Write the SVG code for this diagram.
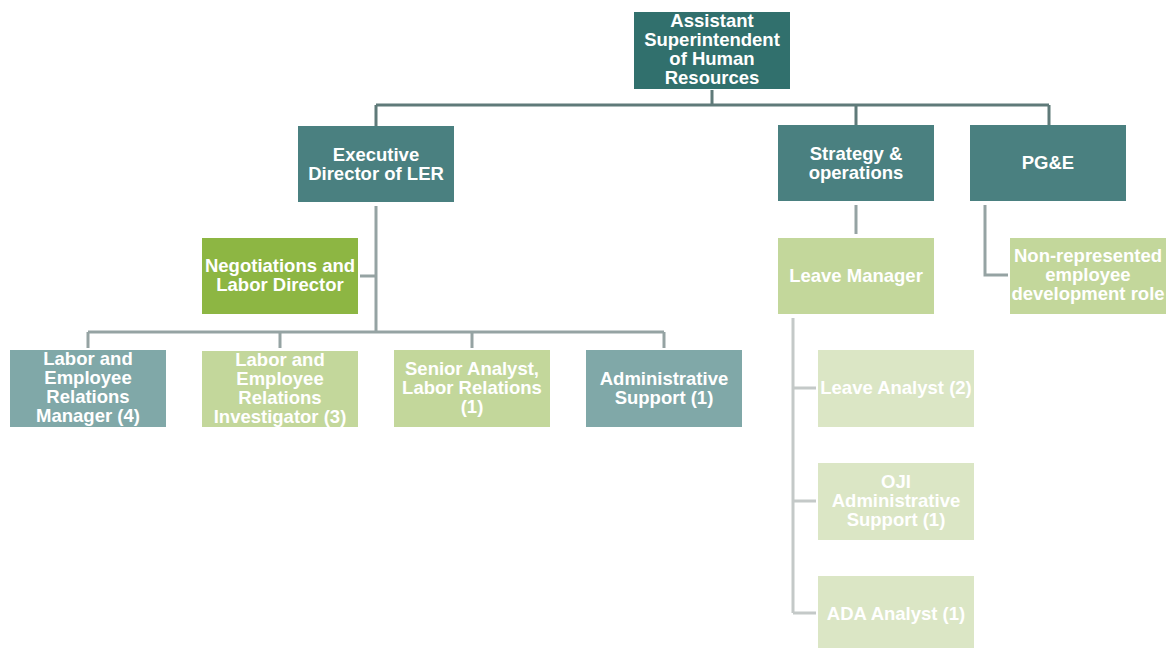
<svg xmlns="http://www.w3.org/2000/svg" width="1171" height="648" viewBox="0 0 1171 648">
  <style>
    .box { stroke: none; }
    .t { font-family: "Liberation Sans", Arial, sans-serif; font-weight: bold; font-size: 18.5px; fill: #ffffff; text-anchor: middle; }
    .c1 { fill: none; stroke: #5f7a79; stroke-width: 3; }
    .c2 { fill: none; stroke: #95a3a3; stroke-width: 3; }
    .c3 { fill: none; stroke: #c4c9c8; stroke-width: 3; }
  </style>
  <rect width="1171" height="648" fill="#ffffff"/>

  <g id="connectors">
    <path class="c1" d="M712 90 V105 M376 105 H1049 M376 105 V126 M856 105 V125 M1049 105 V125"/>
    <path class="c2" d="M376 206 V332 M360 276 H376 M88 332 H664 M88 332 V348 M280 332 V348 M472 332 V348 M664 332 V348"/>
    <path class="c2" d="M856 205 V234 M985 205 V275 H1008"/>
    <path class="c3" d="M793 318 V613 M793 388 H816 M793 501 H816 M793 613 H816"/>
  </g>

  <g id="n-ashr">
    <rect class="box" x="634" y="12" width="156" height="77" fill="#31706d"/>
    <text class="t" x="712" y="27">Assistant</text>
    <text class="t" x="712" y="46">Superintendent</text>
    <text class="t" x="712" y="65">of Human</text>
    <text class="t" x="712" y="84">Resources</text>
  </g>

  <g id="n-exec">
    <rect class="box" x="298" y="126" width="156" height="76" fill="#4a8080"/>
    <text class="t" x="376" y="161">Executive</text>
    <text class="t" x="376" y="180">Director of LER</text>
  </g>

  <g id="n-strategy">
    <rect class="box" x="778" y="125" width="156" height="76" fill="#4a8080"/>
    <text class="t" x="856" y="160">Strategy &amp;</text>
    <text class="t" x="856" y="179">operations</text>
  </g>

  <g id="n-pge">
    <rect class="box" x="970" y="125" width="156" height="76" fill="#4a8080"/>
    <text class="t" x="1048" y="169">PG&amp;E</text>
  </g>

  <g id="n-negotiations">
    <rect class="box" x="202" y="238" width="156" height="76" fill="#8db643"/>
    <text class="t" x="280" y="272">Negotiations and</text>
    <text class="t" x="280" y="291">Labor Director</text>
  </g>

  <g id="n-leave-manager">
    <rect class="box" x="778" y="238" width="156" height="76" fill="#c3d79b"/>
    <text class="t" x="856" y="282">Leave Manager</text>
  </g>

  <g id="n-nonrep">
    <rect class="box" x="1010" y="238" width="156" height="76" fill="#c3d79b"/>
    <text class="t" x="1088" y="262">Non-represented</text>
    <text class="t" x="1088" y="281">employee</text>
    <text class="t" x="1088" y="300">development role</text>
  </g>

  <g id="n-ler-manager">
    <rect class="box" x="10" y="350" width="156" height="77" fill="#80a8a8"/>
    <text class="t" x="88" y="365">Labor and</text>
    <text class="t" x="88" y="384">Employee</text>
    <text class="t" x="88" y="403">Relations</text>
    <text class="t" x="88" y="422">Manager (4)</text>
  </g>

  <g id="n-ler-investigator">
    <rect class="box" x="202" y="351" width="156" height="76" fill="#c3d79b"/>
    <text class="t" x="280" y="366">Labor and</text>
    <text class="t" x="280" y="385">Employee</text>
    <text class="t" x="280" y="404">Relations</text>
    <text class="t" x="280" y="423">Investigator (3)</text>
  </g>

  <g id="n-senior-analyst">
    <rect class="box" x="394" y="350" width="156" height="77" fill="#c3d79b"/>
    <text class="t" x="472" y="375">Senior Analyst,</text>
    <text class="t" x="472" y="394">Labor Relations</text>
    <text class="t" x="472" y="413">(1)</text>
  </g>

  <g id="n-admin-support">
    <rect class="box" x="586" y="350" width="156" height="77" fill="#80a8a8"/>
    <text class="t" x="664" y="385">Administrative</text>
    <text class="t" x="664" y="404">Support (1)</text>
  </g>

  <g id="n-leave-analyst">
    <rect class="box" x="818" y="350" width="156" height="77" fill="#dbe6c5"/>
    <text class="t" x="896" y="394">Leave Analyst (2)</text>
  </g>

  <g id="n-oji-admin">
    <rect class="box" x="818" y="463" width="156" height="77" fill="#dbe6c5"/>
    <text class="t" x="896" y="488">OJI</text>
    <text class="t" x="896" y="507">Administrative</text>
    <text class="t" x="896" y="526">Support (1)</text>
  </g>

  <g id="n-ada-analyst">
    <rect class="box" x="818" y="576" width="156" height="77" fill="#dbe6c5"/>
    <text class="t" x="896" y="620">ADA Analyst (1)</text>
  </g>
</svg>
